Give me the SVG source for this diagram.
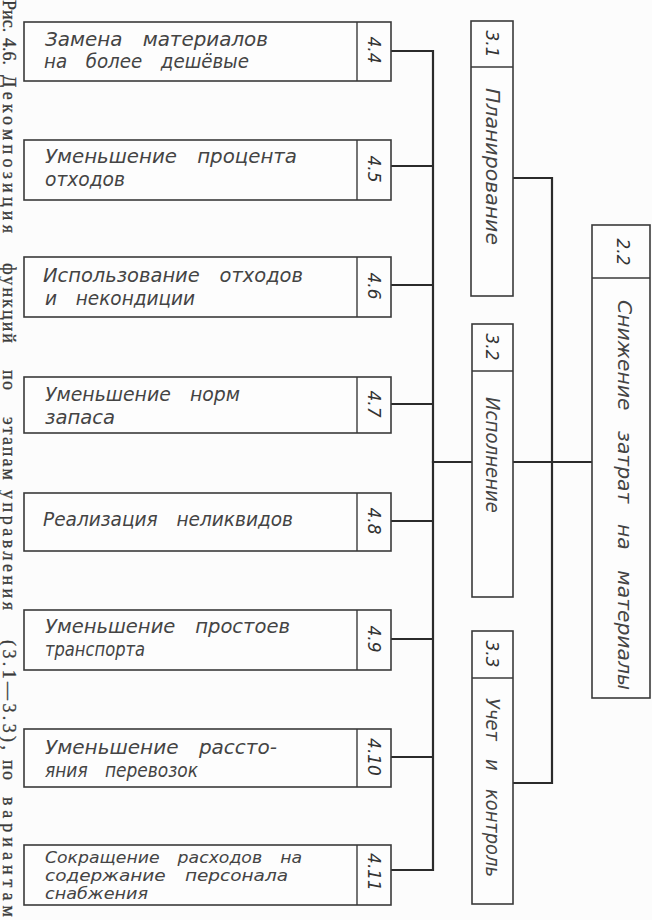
<svg xmlns="http://www.w3.org/2000/svg" width="652" height="920" viewBox="0 0 652 920">
  <style>
    .box { fill: #fdfdfd; stroke: #3a3a3a; stroke-width: 1.6; }
    .cell { fill: none; stroke: #3a3a3a; stroke-width: 1.4; }
    .wire { fill: none; stroke: #2b2b2b; stroke-width: 2.2; stroke-linecap: square; }
    .lbl { font-family: "DejaVu Sans", "Liberation Sans", sans-serif; font-style: oblique; font-size: 20px; fill: #444; word-spacing: 14px; }
    .lbl3 { font-family: "DejaVu Sans", "Liberation Sans", sans-serif; font-style: oblique; font-size: 16.5px; fill: #444; word-spacing: 12px; }
    .num { font-family: "DejaVu Sans", "Liberation Sans", sans-serif; font-style: oblique; font-size: 17px; fill: #333; text-anchor: middle; }
    .cap { font-family: "Liberation Serif", "DejaVu Serif", serif; font-size: 18px; fill: #3a3a3a; stroke: #3a3a3a; stroke-width: 0.3; }
  </style>

  <rect x="0" y="0" width="652" height="920" fill="#fcfcfc"/>

  <!-- figure caption, set along the left margin -->
  <g id="caption" transform="translate(3,0) rotate(90)">
    <text class="cap" x="0" y="0">Рис.</text>
    <text class="cap" x="38" y="0">4.6.</text>
    <text class="cap" x="75" y="0" textLength="158" lengthAdjust="spacing">Декомпозиция</text>
    <text class="cap" x="263" y="0" textLength="80" lengthAdjust="spacing">функций</text>
    <text class="cap" x="370" y="0" textLength="20" lengthAdjust="spacing">по</text>
    <text class="cap" x="417" y="0" textLength="63" lengthAdjust="spacing">этапам</text>
    <text class="cap" x="490" y="0" textLength="120" lengthAdjust="spacing">управления</text>
    <text class="cap" x="640" y="0" textLength="110" lengthAdjust="spacing">(3.1—3.3),</text>
    <text class="cap" x="760" y="0" textLength="20" lengthAdjust="spacing">по</text>
    <text class="cap" x="797" y="0" textLength="120" lengthAdjust="spacing">вариантам</text>
  </g>

  <!-- connectors -->
  <g id="connectors">
    <!-- left bus gathering 4.4 … 4.11 -->
    <path class="wire" d="M391,51 H433 M391,166 H433 M391,285 H433 M391,404 H433 M391,521 H433 M391,639 H433 M391,757 H433 M391,870 H433 M433,51 V870"/>
    <!-- bus to 3.2 -->
    <path class="wire" d="M433,462 H472"/>
    <!-- right bus gathering 3.1 … 3.3 -->
    <path class="wire" d="M513,178 H552 M513,783 H552 M552,178 V783"/>
    <!-- 3.2 to 2.2 -->
    <path class="wire" d="M513,462 H592"/>
  </g>

  <!-- level 4 functions -->
  <g id="n4-4">
    <rect class="box" x="24" y="22" width="367" height="59"/>
    <line class="cell" x1="357" y1="22" x2="357" y2="81"/>
    <text class="lbl" x="45" y="46" textLength="223" lengthAdjust="spacingAndGlyphs">Замена материалов</text>
    <text class="lbl" x="44" y="68" textLength="205" lengthAdjust="spacingAndGlyphs">на более дешёвые</text>
    <text class="num" transform="translate(374,50) rotate(90)" dy="0.36em">4.4</text>
  </g>
  <g id="n4-5">
    <rect class="box" x="24" y="140" width="367" height="60"/>
    <line class="cell" x1="357" y1="140" x2="357" y2="200"/>
    <text class="lbl" x="45" y="163" textLength="252" lengthAdjust="spacingAndGlyphs">Уменьшение процента</text>
    <text class="lbl" x="45" y="186" textLength="80" lengthAdjust="spacingAndGlyphs">отходов</text>
    <text class="num" transform="translate(374,169) rotate(90)" dy="0.36em">4.5</text>
  </g>
  <g id="n4-6">
    <rect class="box" x="24" y="257" width="367" height="60"/>
    <line class="cell" x1="357" y1="257" x2="357" y2="317"/>
    <text class="lbl" x="43" y="282" textLength="260" lengthAdjust="spacingAndGlyphs">Использование отходов</text>
    <text class="lbl" x="45" y="305" textLength="150" lengthAdjust="spacingAndGlyphs">и некондиции</text>
    <text class="num" transform="translate(374,286) rotate(90)" dy="0.36em">4.6</text>
  </g>
  <g id="n4-7">
    <rect class="box" x="24" y="377" width="367" height="56"/>
    <line class="cell" x1="357" y1="377" x2="357" y2="433"/>
    <text class="lbl" x="45" y="401" textLength="195" lengthAdjust="spacingAndGlyphs">Уменьшение норм</text>
    <text class="lbl" x="45" y="424" textLength="70" lengthAdjust="spacingAndGlyphs">запаса</text>
    <text class="num" transform="translate(374,404) rotate(90)" dy="0.36em">4.7</text>
  </g>
  <g id="n4-8">
    <rect class="box" x="24" y="493" width="367" height="58"/>
    <line class="cell" x1="357" y1="493" x2="357" y2="551"/>
    <text class="lbl" x="43" y="526" textLength="250" lengthAdjust="spacingAndGlyphs">Реализация неликвидов</text>
    <text class="num" transform="translate(374,521) rotate(90)" dy="0.36em">4.8</text>
  </g>
  <g id="n4-9">
    <rect class="box" x="24" y="610" width="367" height="60"/>
    <line class="cell" x1="357" y1="610" x2="357" y2="670"/>
    <text class="lbl" x="45" y="633" textLength="245" lengthAdjust="spacingAndGlyphs">Уменьшение простоев</text>
    <text class="lbl" x="45" y="656" textLength="100" lengthAdjust="spacingAndGlyphs">транспорта</text>
    <text class="num" transform="translate(374,639) rotate(90)" dy="0.36em">4.9</text>
  </g>
  <g id="n4-10">
    <rect class="box" x="24" y="729" width="367" height="58"/>
    <line class="cell" x1="357" y1="729" x2="357" y2="787"/>
    <text class="lbl" x="45" y="754" textLength="232" lengthAdjust="spacingAndGlyphs">Уменьшение рассто-</text>
    <text class="lbl" x="45" y="777" textLength="153" lengthAdjust="spacingAndGlyphs">яния перевозок</text>
    <text class="num" transform="translate(374,757) rotate(90)" dy="0.36em">4.10</text>
  </g>
  <g id="n4-11">
    <rect class="box" x="24" y="845" width="367" height="60"/>
    <line class="cell" x1="357" y1="845" x2="357" y2="905"/>
    <text class="lbl3" x="45" y="863" textLength="257" lengthAdjust="spacingAndGlyphs">Сокращение расходов на</text>
    <text class="lbl3" x="45" y="881" textLength="243" lengthAdjust="spacingAndGlyphs">содержание персонала</text>
    <text class="lbl3" x="45" y="899" textLength="103" lengthAdjust="spacingAndGlyphs">снабжения</text>
    <text class="num" transform="translate(374,872) rotate(90)" dy="0.36em">4.11</text>
  </g>

  <!-- level 3: management stages -->
  <g id="n3-1">
    <rect class="box" x="471" y="21" width="42" height="275"/>
    <line class="cell" x1="471" y1="67" x2="513" y2="67"/>
    <text class="num" transform="translate(492,44) rotate(90)" dy="0.36em">3.1</text>
    <text class="lbl" transform="translate(486,88) rotate(90)" textLength="157" lengthAdjust="spacingAndGlyphs">Планирование</text>
  </g>
  <g id="n3-2">
    <rect class="box" x="472" y="324" width="41" height="273"/>
    <line class="cell" x1="472" y1="371" x2="513" y2="371"/>
    <text class="num" transform="translate(492,347) rotate(90)" dy="0.36em">3.2</text>
    <text class="lbl" transform="translate(486,397) rotate(90)" textLength="116" lengthAdjust="spacingAndGlyphs">Исполнение</text>
  </g>
  <g id="n3-3">
    <rect class="box" x="472" y="631" width="41" height="273"/>
    <line class="cell" x1="472" y1="678" x2="513" y2="678"/>
    <text class="num" transform="translate(492,654) rotate(90)" dy="0.36em">3.3</text>
    <text class="lbl" transform="translate(486,698) rotate(90)" textLength="179" lengthAdjust="spacingAndGlyphs">Учет и контроль</text>
  </g>

  <!-- level 2: goal -->
  <g id="n2-2">
    <rect class="box" x="592" y="225" width="58" height="473"/>
    <line class="cell" x1="592" y1="278" x2="650" y2="278"/>
    <text class="num" transform="translate(623,252) rotate(90)" dy="0.36em">2.2</text>
    <text class="lbl" transform="translate(618,300) rotate(90)" textLength="390" lengthAdjust="spacingAndGlyphs">Снижение затрат на материалы</text>
  </g>
</svg>
